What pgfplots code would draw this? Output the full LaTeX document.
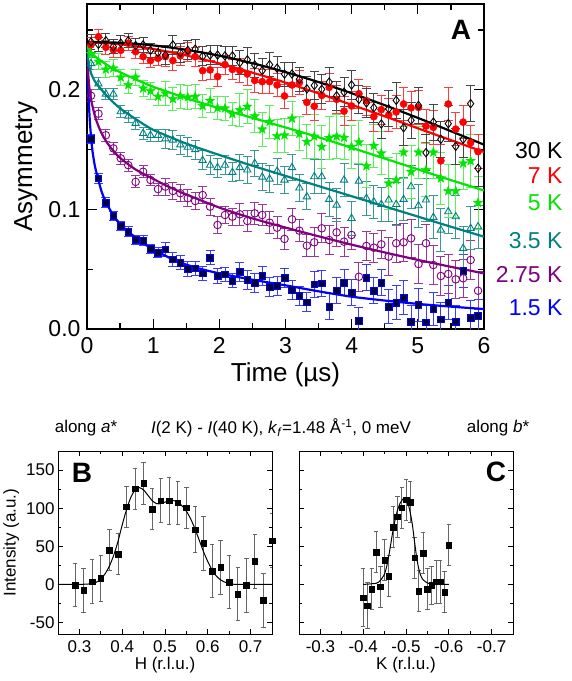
\documentclass[border=0pt]{standalone}
\usepackage{fontspec}
\setmainfont{Liberation Sans}
\usepackage{pgfplots}
\usepackage{pgfplotstable}
\pgfplotsset{compat=1.18}

\definecolor{cgreen}{RGB}{0,230,0}
\definecolor{egreen}{RGB}{90,240,90}
\definecolor{cteal}{RGB}{0,128,128}
\definecolor{eteal}{RGB}{60,150,150}
\definecolor{cpurple}{RGB}{128,0,128}
\definecolor{epurple}{RGB}{155,55,155}
\definecolor{cblue}{RGB}{0,0,255}
\definecolor{eblue}{RGB}{60,60,255}
\definecolor{navy}{RGB}{0,0,60}
\definecolor{ered}{RGB}{255,60,60}
\definecolor{eblack}{RGB}{70,70,70}

% filled five-pointed star
\pgfdeclareplotmark{fstar}{%
  \pgfpathmoveto{\pgfqpointpolar{90}{\pgfplotmarksize}}%
  \pgfpathlineto{\pgfqpointpolar{126}{0.42\pgfplotmarksize}}%
  \pgfpathlineto{\pgfqpointpolar{162}{\pgfplotmarksize}}%
  \pgfpathlineto{\pgfqpointpolar{198}{0.42\pgfplotmarksize}}%
  \pgfpathlineto{\pgfqpointpolar{234}{\pgfplotmarksize}}%
  \pgfpathlineto{\pgfqpointpolar{270}{0.42\pgfplotmarksize}}%
  \pgfpathlineto{\pgfqpointpolar{306}{\pgfplotmarksize}}%
  \pgfpathlineto{\pgfqpointpolar{342}{0.42\pgfplotmarksize}}%
  \pgfpathlineto{\pgfqpointpolar{18}{\pgfplotmarksize}}%
  \pgfpathlineto{\pgfqpointpolar{54}{0.42\pgfplotmarksize}}%
  \pgfpathclose
  \pgfusepathqfillstroke}

% muSR asymmetry, columns: time, then value/error for 30, 7, 5, 3.5, 2.75, 1.5 K
\pgfplotstableread{
t     A30    E30  A7     E7   A5     E5   A35    E35  A275   E275 A15    E15
0.060 0.2400 .006 0.2375 .006 0.2300 .007 0.2220 .005 0.1950 .005 0.1590 .004
0.173 0.2380 .006 0.2444 .006 0.2236 .007 0.2050 .005 0.1800 .005 0.1260 .004
0.285 0.2410 .006 0.2355 .006 0.2170 .007 0.1965 .005 0.1620 .005 0.1056 .004
0.398 0.2360 .006 0.2333 .006 0.2180 .007 0.1965 .005 0.1510 .005 0.0945 .004
0.510 0.2390 .006 0.2330 .006 0.2104 .007 0.1817 .005 0.1427 .005 0.0861 .004
0.623 0.2410 .006 0.2389 .006 0.2040 .007 0.1780 .005 0.1370 .005 0.0814 .004
0.735 0.2370 .006 0.2319 .006 0.2104 .007 0.1720 .005 0.1230 .005 0.0744 .004
0.848 0.2375 .006 0.2277 .006 0.2012 .007 0.1636 .005 0.1315 .005 0.0739 .004
0.960 0.2330 .006 0.2244 .006 0.1990 .007 0.1620 .005 0.1246 .005 0.0669 .004
1.073 0.2310 .006 0.2263 .006 0.1943 .007 0.1620 .005 0.1170 .005 0.0638 .004
1.185 0.2290 .008 0.2277 .008 0.1970 .010 0.1590 .008 0.1190 .007 0.0666 .006
1.298 0.2375 .008 0.2244 .008 0.1923 .010 0.1580 .008 0.1154 .007 0.0583 .006
1.410 0.2310 .008 0.2283 .008 0.1948 .010 0.1540 .008 0.1135 .007 0.0555 .006
1.523 0.2330 .008 0.2319 .008 0.1937 .010 0.1520 .008 0.1093 .007 0.0502 .006
1.635 0.2340 .008 0.2277 .008 0.1943 .010 0.1500 .008 0.1070 .007 0.0507 .006
1.748 0.2280 .008 0.2160 .008 0.1865 .010 0.1410 .008 0.1120 .007 0.0465 .006
1.860 0.2290 .008 0.2166 .008 0.1909 .010 0.1370 .008 0.1023 .007 0.0596 .006
1.973 0.2290 .008 0.2110 .008 0.1848 .010 0.1350 .008 0.0870 .007 0.0443 .006
2.085 0.2283 .008 0.2210 .008 0.1845 .010 0.1370 .008 0.0953 .007 0.0457 .006
2.198 0.2283 .008 0.2170 .008 0.1798 .010 0.1310 .008 0.0939 .007 0.0404 .006
2.310 0.2227 .010 0.2160 .010 0.1831 .014 0.1350 .011 0.0959 .009 0.0479 .008
2.423 0.2250 .010 0.2132 .010 0.1859 .014 0.1330 .011 0.0903 .009 0.0410 .008
2.535 0.2207 .010 0.2078 .010 0.1780 .014 0.1385 .011 0.0967 .009 0.0387 .008
2.648 0.2160 .010 0.2068 .010 0.1670 .014 0.1270 .011 0.0953 .009 0.0446 .008
2.760 0.2210 .010 0.2068 .010 0.1733 .014 0.1254 .011 0.0889 .009 0.0354 .008
2.873 0.2180 .010 0.2040 .010 0.1614 .014 0.1320 .011 0.0847 .009 0.0362 .008
2.985 0.2131 .010 0.1948 .010 0.1620 .014 0.1246 .011 0.0753 .009 0.0429 .008
3.098 0.2132 .010 0.2040 .010 0.1760 .014 0.1350 .011 0.0917 .009 0.0326 .008
3.210 0.2088 .010 0.2060 .010 0.1633 .014 0.1180 .011 0.0822 .009 0.0279 .008
3.323 0.2008 .010 0.1895 .010 0.1566 .014 0.1106 .011 0.0697 .009 0.0223 .008
3.435 0.2036 .012 0.1862 .012 0.1610 .018 0.1274 .014 0.0725 .012 0.0374 .011
3.548 0.2004 .012 0.1952 .012 0.1524 .018 0.1274 .014 0.0842 .012 0.0382 .011
3.660 0.2064 .012 0.2020 .012 0.1598 .018 0.1084 .014 0.0744 .012 0.0186 .011
3.773 0.1950 .012 0.1920 .012 0.1610 .018 0.1037 .014 0.0808 .012 0.0320 .011
3.885 0.1980 .012 0.1821 .012 0.1600 .018 0.1246 .014 0.0730 .012 0.0387 .011
3.998 0.2040 .012 0.1865 .012 0.1524 .018 0.0925 .014 0.0786 .012 0.0304 .011
4.110 0.1920 .012 0.1967 .012 0.1562 .018 0.1237 .014 0.0437 .012 0.0070 .011
4.223 0.1890 .012 0.1908 .012 0.1363 .018 0.1093 .014 0.0694 .012 0.0429 .011
4.335 0.1850 .012 0.1775 .012 0.1532 .018 0.1064 .014 0.0680 .012 0.0320 .011
4.448 0.1714 .012 0.1834 .012 0.1470 .018 0.1042 .014 0.0708 .012 0.0387 .011
4.560 0.1841 .015 0.1789 .014 0.1218 .022 0.1079 .018 0.0605 .016 0.0187 .014
4.673 0.1912 .015 0.1815 .014 0.1246 .022 0.1042 .018 0.0717 .016 0.0220 .014
4.785 0.1683 .015 0.1881 .014 0.1477 .022 0.1084 .018 0.0725 .016 0.0262 .014
4.898 0.1745 .015 0.1849 .014 0.1315 .022 0.1190 .018 0.0758 .016 0.0061 .014
5.010 0.1869 .015 0.1853 .014 0.1477 .022 0.1031 .018 0.0543 .016 0.0200 .014
5.123 0.1474 .015 0.1697 .014 0.1330 .022 0.1079 .018 0.0717 .016 0.0056 .014
5.235 0.1729 .015 0.1686 .014 0.1477 .022 0.0934 .018 0.0535 .016 0.0167 .014
5.348 0.1586 .015 0.1406 .014 0.1260 .022 0.0828 .018 0.0443 .016 0.0081 .014
5.460 0.1717 .015 0.1881 .014 0.1154 .022 0.0981 .018 0.0460 .016 0.0220 .014
5.573 0.1527 .015 0.1671 .014 0.1154 .022 0.0939 .018 0.0415 .016 0.0061 .014
5.685 0.1586 .015 0.1729 .014 0.1385 .022 0.0675 .018 0.0424 .016 0.0485 .014
5.798 0.1884 .015 0.1558 .014 0.1405 .022 0.0842 .018 0.0577 .016 0.0095 .014
5.910 0.1344 .015 0.1483 .014 0.1056 .022 0.0856 .018 0.0320 .016 0.0111 .014
}\musr

% scan along a*
\pgfplotstableread{
h    I      e
0.29 -1.0   28
0.31 -7.5   29
0.33 3.5    29
0.35 8.0    30
0.37 45.0   27
0.39 40.0   27
0.41 101.7  27
0.43 125.5  27
0.45 132.5  27
0.47 99.0   27
0.49 110.0  29
0.51 110.0  31
0.53 107.0  28
0.55 100.4  27
0.57 71.7   30
0.59 54.0   35
0.61 17.6   35
0.63 22.5   35
0.65 3.0    35
0.67 -12.8  35
0.69 -1.3   35
0.71 30.4   35
0.73 -20.7  35
0.75 57.6   35
}\scanH

% scan along b*
\pgfplotstableread{
k     I      e
-0.40 -17.2  38
-0.41 -27.7  30
-0.42 -6.2   27
-0.43 42.3   27
-0.44 -3.1   27
-0.45 32.1   27
-0.46 11.0   27
-0.47 75.3   27
-0.48 89.0   27
-0.49 100.8  27
-0.50 111.4  27
-0.51 107.9  27
-0.52 35.2   27
-0.53 -8.8   27
-0.54 41.0   27
-0.55 -6.2   27
-0.56 -0.9   25
-0.57 3.5    28
-0.58 3.5    28
-0.59 -10.1  27
-0.60 51.5   27
}\scanK

\pgfplotsset{
  errA/.style={error bars/y dir=both, error bars/y explicit,
    error bars/error bar style={line width=0.9pt, color=#1},
    error bars/error mark options={rotate=90, mark size=4.5pt, line width=0.9pt, color=#1}},
  scanpts/.style={only marks, mark=square*, mark size=2.8pt, mark options={fill=black, draw=black},
    error bars/y dir=both, error bars/y explicit,
    error bars/error bar style={line width=0.8pt, color=black!60},
    error bars/error mark options={rotate=90, mark size=2.2pt, line width=0.8pt, color=black!60}},
}

\begin{document}
\begin{tikzpicture}
\useasboundingbox (0,0) rectangle (572pt,-681pt);

\begin{axis}[
  at={(87pt,-4pt)}, anchor=north west,
  scale only axis, width=397pt, height=325pt,
  xmin=0, xmax=6, ymin=0, ymax=0.2717,
  xtick={0,1,2,3,4,5,6}, xticklabels={0,1,2,3,4,5,6},
  minor xtick={0.5,1.5,2.5,3.5,4.5,5.5},
  ytick={0,0.1,0.2}, yticklabels={0.0,0.1,0.2},
  minor ytick={0.05,0.15,0.25},
  tick align=inside, major tick length=10pt, minor tick length=6pt,
  every tick/.append style={line width=1.3pt, black},
  axis line style={line width=1.4pt},
  ticklabel style={font=\fontsize{23}{23}\selectfont},
  xticklabel style={yshift=-5pt},
  yticklabel style={xshift=-3pt},
  label style={font=\fontsize{26}{26}\selectfont},
  xlabel={Time (µs)}, ylabel={Asymmetry},
  xlabel style={yshift=-2pt},
  ylabel style={yshift=4pt},
]
% data
\addplot[only marks, mark=square*, mark size=3.3pt, mark options={fill=navy, draw=cblue, line width=0.6pt}, errA=eblue]
  table[x=t, y=A15, y error=E15] {\musr};
\addplot[only marks, mark=o, mark size=3.8pt, mark options={fill=white, draw=cpurple, line width=0.9pt}, errA=epurple]
  table[x=t, y=A275, y error=E275] {\musr};
\addplot[only marks, mark=triangle, mark size=4.2pt, mark options={fill=white, draw=cteal, line width=0.9pt}, errA=eteal]
  table[x=t, y=A35, y error=E35] {\musr};
\addplot[only marks, mark=fstar, mark size=5pt, mark options={fill=cgreen, draw=cgreen, line width=0.3pt}, errA=egreen]
  table[x=t, y=A5, y error=E5] {\musr};
\addplot[only marks, mark=*, mark size=3.6pt, mark options={fill=red, draw=red}, errA=ered]
  table[x=t, y=A7, y error=E7] {\musr};
\addplot[only marks, mark=diamond, mark size=4.2pt, mark options={fill=white, draw=black, line width=0.9pt}, errA=eblack]
  table[x=t, y=A30, y error=E30] {\musr};
% fits
\addplot[cblue, line width=2.2pt, smooth, tension=0.4] coordinates {
(0,0.236) (0.01,0.215) (0.02,0.198) (0.045,0.172) (0.08,0.150) (0.12,0.136) (0.17,0.125)
(0.22,0.115) (0.28,0.1066) (0.35,0.0995) (0.41,0.094) (0.5,0.0878) (0.62,0.0815) (0.8,0.0738)
(0.96,0.0678) (1.2,0.0608) (1.41,0.0555) (1.7,0.0505) (2,0.0465) (2.5,0.0412) (3,0.0365)
(3.5,0.0315) (4,0.027) (4.5,0.0238) (5,0.021) (5.5,0.0187) (6,0.0167)};
\addplot[cpurple, line width=2.2pt, smooth, tension=0.4] coordinates {
(0,0.236) (0.01,0.222) (0.02,0.212) (0.05,0.195) (0.12,0.178) (0.2,0.166) (0.3,0.156)
(0.47,0.1445) (0.73,0.1335) (1,0.1255) (1.25,0.1185) (1.5,0.1125) (2,0.1015) (2.5,0.0925)
(3,0.0848) (3.5,0.0775) (4,0.0705) (4.5,0.064) (5,0.0578) (5.5,0.052) (6,0.0465)};
\addplot[cteal, line width=2.2pt, smooth, tension=0.4] coordinates {
(0,0.236) (0.02,0.224) (0.06,0.214) (0.12,0.207) (0.22,0.200) (0.35,0.192) (0.5,0.1845)
(0.75,0.175) (1,0.1665) (1.5,0.155) (2,0.1455) (2.5,0.1365) (3,0.128) (3.5,0.1195)
(4,0.111) (4.5,0.1025) (5,0.094) (5.5,0.0855) (6,0.0772)};
\addplot[cgreen, line width=2.2pt, smooth, tension=0.4] coordinates {
(0,0.236) (0.1,0.229) (0.2,0.2245) (0.4,0.2175) (0.7,0.2095) (1,0.2025) (1.5,0.193)
(2,0.1845) (2.5,0.1765) (3,0.1685) (3.5,0.1603) (4,0.1515) (4.5,0.1425) (5,0.1335)
(5.5,0.1245) (6,0.1158)};
\addplot[red, line width=2.2pt, smooth] coordinates {
(0,0.240) (0.5,0.2381) (1,0.2341) (1.5,0.2287) (2,0.222) (2.5,0.2143) (3,0.206)
(3.5,0.197) (4,0.1874) (4.5,0.1778) (5,0.1678) (5.5,0.1579) (6,0.148)};
\addplot[black, line width=2.2pt, smooth] coordinates {
(0,0.240) (0.5,0.2393) (1,0.2371) (1.5,0.2334) (2,0.2285) (2.5,0.2222) (3,0.2148)
(3.5,0.2064) (4,0.1971) (4.5,0.1871) (5,0.1765) (5.5,0.1654) (6,0.1541)};
\end{axis}

\node[font=\bfseries\fontsize{28}{28}\selectfont] at (461pt,-30pt) {A};
\begin{scope}[every node/.style={anchor=east, font=\fontsize{23}{23}\selectfont}]
\node[text=black]   at (566pt,-151pt) {30 K};
\node[text=red]     at (566pt,-176pt) {7 K};
\node[text=cgreen]  at (566pt,-203pt) {5 K};
\node[text=cteal]   at (566pt,-241pt) {3.5 K};
\node[text=cpurple] at (566pt,-275pt) {2.75 K};
\node[text=cblue]   at (566pt,-308pt) {1.5 K};
\end{scope}

\begin{scope}[every node/.style={font=\fontsize{17}{17}\selectfont}]
\node at (86pt,-428pt) {along \textit{a}*};
\node at (281pt,-428pt) {\textit{I}(2 K) - \textit{I}(40 K), \textit{k}\textsubscript{\textit{f}}=1.48 Å\textsuperscript{-1}, 0 meV};
\node at (498pt,-428pt) {along \textit{b}*};
\end{scope}

\begin{axis}[
  at={(58pt,-451pt)}, anchor=north west,
  scale only axis, width=214pt, height=183pt,
  xmin=0.25, xmax=0.75, ymin=-65, ymax=175,
  xtick={0.3,0.4,0.5,0.6,0.7}, xticklabels={0.3,0.4,0.5,0.6,0.7},
  minor xtick={0.35,0.45,0.55,0.65},
  ytick={-50,0,50,100,150}, yticklabels={-50,0,50,100,150},
  minor ytick={-25,25,75,125},
  tick align=inside, major tick length=5pt, minor tick length=3pt,
  every tick/.append style={line width=0.7pt, black},
  axis line style={line width=0.8pt},
  ticklabel style={font=\fontsize{17}{17}\selectfont},
  xticklabel style={yshift=-3pt},
  label style={font=\fontsize{17}{17}\selectfont},
  xlabel={H (r.l.u.)}, ylabel={Intensity (a.u.)},
  xlabel style={yshift=2pt},
]
\addplot[scanpts] table[x=h, y=I, y error=e] {\scanH};
\addplot[black, line width=1pt, smooth, tension=0.4] coordinates {
(0.25,0) (0.30,0) (0.33,1) (0.34,3) (0.35,7) (0.36,14) (0.37,24) (0.38,38) (0.39,56)
(0.40,78) (0.41,98) (0.42,114) (0.43,124) (0.44,127) (0.45,124) (0.46,117) (0.47,110)
(0.48,106) (0.49,106) (0.50,108) (0.51,110) (0.52,110) (0.53,108) (0.54,103) (0.55,96)
(0.56,86) (0.57,73) (0.58,58) (0.59,43) (0.60,30) (0.61,19) (0.62,11) (0.63,6) (0.64,3)
(0.65,1) (0.67,0) (0.75,0)};
\end{axis}
\node[font=\bfseries\fontsize{28}{28}\selectfont] at (82pt,-473pt) {B};

\begin{axis}[
  at={(299pt,-451pt)}, anchor=north west,
  scale only axis, width=214pt, height=183pt,
  x dir=reverse,
  xmin=-0.75, xmax=-0.25, ymin=-65, ymax=175,
  xtick={-0.3,-0.4,-0.5,-0.6,-0.7}, xticklabels={-0.3,-0.4,-0.5,-0.6,-0.7},
  minor xtick={-0.35,-0.45,-0.55,-0.65},
  ytick={-50,0,50,100,150}, yticklabels={},
  minor ytick={-25,25,75,125},
  tick align=inside, major tick length=5pt, minor tick length=3pt,
  every tick/.append style={line width=0.7pt, black},
  axis line style={line width=0.8pt},
  ticklabel style={font=\fontsize{17}{17}\selectfont},
  xticklabel style={yshift=-3pt},
  label style={font=\fontsize{17}{17}\selectfont},
  xlabel={K (r.l.u.)},
  xlabel style={yshift=2pt},
]
\addplot[scanpts] table[x=k, y=I, y error=e] {\scanK};
\addplot[black, line width=1pt, smooth, tension=0.4] coordinates {
(-0.40,0) (-0.43,1.5) (-0.44,5) (-0.45,14) (-0.455,24) (-0.46,38) (-0.465,55) (-0.47,72)
(-0.475,86) (-0.48,97) (-0.485,105) (-0.49,110) (-0.495,113) (-0.50,112) (-0.505,106)
(-0.51,94) (-0.515,78) (-0.52,56) (-0.525,35) (-0.53,20) (-0.535,11) (-0.54,6) (-0.55,2)
(-0.56,0.5) (-0.60,0)};
\end{axis}
\node[font=\bfseries\fontsize{28}{28}\selectfont] at (496pt,-472pt) {C};

\end{tikzpicture}
\end{document}
